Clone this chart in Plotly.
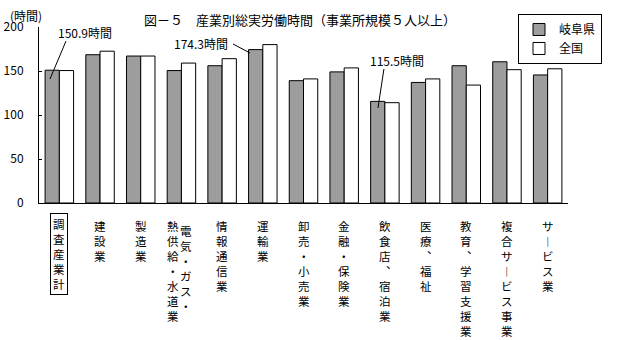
import plotly.graph_objects as go

categories = ["調査産業計", "建設業", "製造業", "電気・ガス・熱供給・水道業", "情報通信業",
              "運輸業", "卸売・小売業", "金融・保険業", "飲食店︑宿泊業", "医療︑福祉",
              "教育︑学習支援業", "複合サ︱ビス事業", "サ︱ビス業"]
gifu = [150.9, 168.5, 167.0, 150.5, 156.0, 174.3, 139.0, 149.0, 115.5, 137.0, 156.0, 160.5, 145.5]
zenkoku = [150.5, 172.5, 167.0, 159.0, 164.0, 180.0, 141.0, 153.5, 114.0, 141.0, 134.0, 151.5, 152.5]
series_names = ["岐阜県", "全国"]
y_ticks = [0, 50, 100, 150, 200]
title_text = "図－５　産業別総実労働時間（事業所規模５人以上）"
y_unit = "(時間)"
callout_idx = [0, 5, 8]

FONT = "Noto Sans CJK JP"
LBL = 11.5

fig = go.Figure()
fig.add_trace(go.Bar(
    x=categories, y=gifu, name=series_names[0],
    marker=dict(color="white", line=dict(color="black", width=1),
                pattern=dict(shape=".", fgcolor="black", bgcolor="white", size=2, solidity=0.4)),
))
fig.add_trace(go.Bar(
    x=categories, y=zenkoku, name=series_names[1],
    marker=dict(color="white", line=dict(color="black", width=1)),
))

annotations = []
shapes = []

# vertical category labels
for i, c in enumerate(categories):
    base = dict(xref="x", yref="paper", y=-0.072, showarrow=False, xanchor="center", yanchor="top",
                font=dict(family=FONT, size=LBL, color="black"))
    if i == 3:
        right, left = c[:6], c[6:]
        annotations.append(dict(base, x=i, text="<br>".join(right), xshift=5, yshift=-5))
        annotations.append(dict(base, x=i, text="<br>".join(left), xshift=-8))
    else:
        a = dict(base, x=i, text="<br>".join(c))
        if i == 0:
            a.update(bordercolor="black", borderwidth=1, borderpad=2, yshift=3)
        annotations.append(a)

# callouts
label_pos = {0: (0.62, 193.2), 5: (3.48, 181.8), 8: (8.296, 161.4)}
line_pos = {0: ((0.163, 184.0), (-0.23, -10.0)),
            5: ((-0.733, 180.7), (-0.316, -3.8)),
            8: ((-0.023, 152.3), (-0.17, -7.5))}
for i in callout_idx:
    lx, ly = label_pos[i]
    annotations.append(dict(x=lx, y=ly, xref="x", yref="y", text=f"{gifu[i]:.1f}時間",
                            showarrow=False, xanchor="center", yanchor="middle",
                            font=dict(family=FONT, size=12, color="black")))
    (dx0, y0), (dx1, dy1) = line_pos[i]
    shapes.append(dict(type="line", xref="x", yref="y", x0=i + dx0, y0=y0,
                       x1=i + dx1, y1=gifu[i] + dy1, line=dict(color="black", width=1)))

# title and unit
annotations.append(dict(x=0.4934, y=1.04, xref="paper", yref="paper", text=title_text,
                        showarrow=False, xanchor="center", yanchor="middle",
                        font=dict(family=FONT, size=13, color="black")))
annotations.append(dict(x=-0.0246, y=1.066, xref="paper", yref="paper", text=y_unit,
                        showarrow=False, xanchor="center", yanchor="middle",
                        font=dict(family=FONT, size=12, color="black")))

fig.update_layout(
    template="none",
    width=617, height=340,
    margin=dict(l=39, r=49, t=27, b=137, autoexpand=False),
    paper_bgcolor="white", plot_bgcolor="white",
    barmode="group", bargap=0.3, bargroupgap=0,
    showlegend=True,
    legend=dict(x=0.9055, y=1.0739, xanchor="left", yanchor="top", orientation="v",
                bordercolor="black", borderwidth=1, bgcolor="white", itemwidth=30,
                tracegroupgap=0, traceorder="normal",
                font=dict(family=FONT, size=12, color="black")),
    font=dict(family=FONT, size=12, color="black"),
    annotations=annotations, shapes=shapes,
)
fig.update_xaxes(showticklabels=False, showline=True, linecolor="black", linewidth=1,
                 ticks="", showgrid=False, range=[-0.5, 12.5], automargin=False)
fig.update_yaxes(range=[0, 200], tickvals=y_ticks, showline=True, linecolor="black", linewidth=1,
                 ticks="inside", ticklen=3, tickcolor="black", showgrid=False, zeroline=False,
                 automargin=False,
                 ticklabelstandoff=12, tickfont=dict(family=FONT, size=12, color="black"))

fig.write_html("out.html")
